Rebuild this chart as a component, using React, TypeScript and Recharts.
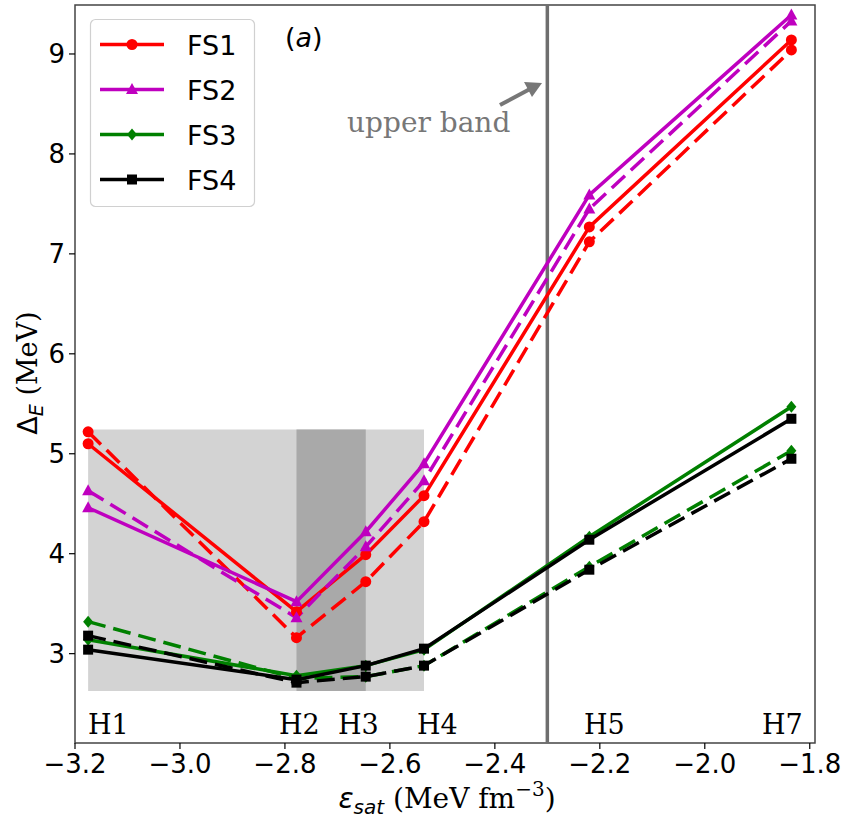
import React from 'react';
import {
  ComposedChart,
  Line,
  XAxis,
  YAxis,
  ReferenceArea,
  ReferenceLine,
} from 'recharts';

// x positions of the interactions H1..H7 (MeV fm^-3)
const hPoints = [-3.175, -2.778, -2.646, -2.535, -2.22, -1.835];

// Delta_E values (MeV), solid = first set, dashed = second set
const fs1Solid = [5.1, 3.42, 3.99, 4.58, 7.27, 9.14];
const fs1Dashed = [5.22, 3.16, 3.72, 4.32, 7.12, 9.04];
const fs2Solid = [4.46, 3.52, 4.22, 4.9, 7.59, 9.39];
const fs2Dashed = [4.63, 3.36, 4.07, 4.73, 7.45, 9.33];
const fs3Solid = [3.14, 2.78, 2.88, 3.04, 4.17, 5.47];
const fs3Dashed = [3.32, 2.75, 2.77, 2.88, 3.87, 5.03];
const fs4Solid = [3.04, 2.74, 2.88, 3.05, 4.14, 5.35];
const fs4Dashed = [3.18, 2.71, 2.77, 2.88, 3.84, 4.95];

const xTicks = [-3.2, -3.0, -2.8, -2.6, -2.4, -2.2, -2.0, -1.8];
const yTicks = [3, 4, 5, 6, 7, 8, 9];
const xDomain = [-3.2, -1.79];
const yDomain = [2.106, 9.49];

// shaded boxes and the upper band marker
const lightBox = { x1: -3.175, x2: -2.535, y1: 2.626, y2: 5.243 };
const darkBox = { x1: -2.778, x2: -2.646, y1: 2.626, y2: 5.243 };
const upperBand = -2.3;

const toRows = (ys: number[]) => ys.map((y, i) => ({ x: hPoints[i], y }));

type Shape = 'circle' | 'triangle' | 'diamond' | 'square';

function marker(shape: Shape, color: string, cx: number, cy: number, key?: any) {
  if (shape === 'circle') return <circle key={key} cx={cx} cy={cy} r={5.5} fill={color} />;
  if (shape === 'triangle')
    return (
      <polygon
        key={key}
        points={`${cx},${cy - 6.5} ${cx - 6},${cy + 4.5} ${cx + 6},${cy + 4.5}`}
        fill={color}
      />
    );
  if (shape === 'diamond')
    return (
      <polygon
        key={key}
        points={`${cx},${cy - 6} ${cx + 5},${cy} ${cx},${cy + 6} ${cx - 5},${cy}`}
        fill={color}
      />
    );
  return <rect key={key} x={cx - 5} y={cy - 5} width={10} height={10} fill={color} />;
}

const makeDot = (shape: Shape, color: string) => (props: any) => {
  const { cx, cy, index } = props;
  if (cx == null || cy == null) return <g key={`e-${index}`} />;
  return marker(shape, color, cx, cy, `d-${index}`);
};

const series = [
  { name: 'FS1', color: '#ff0000', shape: 'circle' as Shape, solid: fs1Solid, dashed: fs1Dashed },
  { name: 'FS2', color: '#bf00bf', shape: 'triangle' as Shape, solid: fs2Solid, dashed: fs2Dashed },
  { name: 'FS3', color: '#008000', shape: 'diamond' as Shape, solid: fs3Solid, dashed: fs3Dashed },
  { name: 'FS4', color: '#000000', shape: 'square' as Shape, solid: fs4Solid, dashed: fs4Dashed },
];

const hLabels = [
  { t: 'H1', x: 88 },
  { t: 'H2', x: 279 },
  { t: 'H3', x: 338 },
  { t: 'H4', x: 417 },
  { t: 'H5', x: 584 },
  { t: 'H7', x: 762 },
];

const fmt = (v: number) => v.toFixed(1).replace('-', '\u2212');
const sans = 'DejaVu Sans';
const serif = 'DejaVu Serif';

export default function App() {
  return (
    <div style={{ position: 'absolute', left: 0, top: 0, width: 846, height: 822, background: '#fff' }}>
      <ComposedChart width={846} height={822} margin={{ top: 5, right: 31, bottom: 0, left: 0 }}>
        <XAxis
          type="number"
          dataKey="x"
          domain={xDomain}
          ticks={xTicks}
          allowDataOverflow
          height={79}
          axisLine={false}
          tickLine={{ stroke: '#000', strokeWidth: 1.2 }}
          tickSize={6}
          tickMargin={6}
          tickFormatter={fmt}
          tick={{ fontSize: 26, fontFamily: sans, fill: '#000' }}
        />
        <YAxis
          type="number"
          domain={yDomain}
          ticks={yTicks}
          allowDataOverflow
          width={75}
          axisLine={false}
          tickLine={{ stroke: '#000', strokeWidth: 1.2 }}
          tickSize={6}
          tickMargin={4}
          tick={{ fontSize: 26, fontFamily: sans, fill: '#000' }}
        />
        <ReferenceArea {...lightBox} fill="#d3d3d3" fillOpacity={1} stroke="none" />
        <ReferenceArea {...darkBox} fill="#a9a9a9" fillOpacity={1} stroke="none" />
        <ReferenceLine x={upperBand} stroke="#6e6e6e" strokeWidth={3.5} />
        {series.map((s) => [
          <Line
            key={`${s.name}-s`}
            data={toRows(s.solid)}
            dataKey="y"
            type="linear"
            stroke={s.color}
            strokeWidth={3.5}
            dot={makeDot(s.shape, s.color)}
            activeDot={false}
            isAnimationActive={false}
          />,
          <Line
            key={`${s.name}-d`}
            data={toRows(s.dashed)}
            dataKey="y"
            type="linear"
            stroke={s.color}
            strokeWidth={3.5}
            strokeDasharray="18 8"
            dot={makeDot(s.shape, s.color)}
            activeDot={false}
            isAnimationActive={false}
          />,
        ])}
        <ReferenceArea
          x1={xDomain[0]}
          x2={xDomain[1]}
          y1={yDomain[0]}
          y2={yDomain[1]}
          fill="none"
          stroke="#444"
          strokeWidth={1.5}
        />
      </ComposedChart>

      <svg
        width={846}
        height={822}
        style={{ position: 'absolute', left: 0, top: 0, pointerEvents: 'none' }}
      >
        {/* legend */}
        <rect x={90.5} y={19.5} width={164} height={187} rx={5} fill="#fff" fillOpacity={0.8} stroke="#d0d0d0" strokeWidth={1.2} />
        {series.map((s, i) => {
          const y = 44.5 + i * 45;
          return (
            <g key={s.name}>
              <line x1={100} y1={y} x2={164} y2={y} stroke={s.color} strokeWidth={3.5} />
              {marker(s.shape, s.color, 132, y)}
              <text x={187} y={y + 10} fontSize={27} fontFamily={sans} fill="#000">
                {s.name}
              </text>
            </g>
          );
        })}
        <text x={285} y={47} fontSize={27} fontFamily={sans} fill="#000">
          (<tspan fontStyle="italic">a</tspan>)
        </text>

        {/* upper band annotation */}
        <text x={347} y={132} fontSize={28} fontFamily={serif} fill="#777">
          upper band
        </text>
        <line x1={500} y1={105} x2={530} y2={89} stroke="#777" strokeWidth={4} />
        <polygon points="542,83 524,82 532,97" fill="#777" />

        {/* interaction labels */}
        {hLabels.map((h) => (
          <text key={h.t} x={h.x} y={734} fontSize={27} fontFamily={serif} fill="#000">
            {h.t}
          </text>
        ))}

        {/* axis titles */}
        <text
          transform="translate(37,373) rotate(-90)"
          textAnchor="middle"
          fontSize={27}
          fontFamily={serif}
          fill="#000"
        >
          <tspan fontFamily={sans}>Δ</tspan>
          <tspan fontFamily={sans} fontStyle="italic" fontSize={19} dy={6}>E</tspan>
          <tspan dy={-6}> (MeV)</tspan>
        </text>
        <text x={447} y={808} textAnchor="middle" fontSize={28} fontFamily={serif} fill="#000">
          <tspan fontFamily={sans} fontStyle="italic">ε</tspan>
          <tspan fontFamily={sans} fontStyle="italic" fontSize={20} dy={6}>sat</tspan>
          <tspan dy={-6}> (MeV fm</tspan>
          <tspan fontSize={20} dy={-12}>−3</tspan>
          <tspan dy={12}>)</tspan>
        </text>
      </svg>
    </div>
  );
}
